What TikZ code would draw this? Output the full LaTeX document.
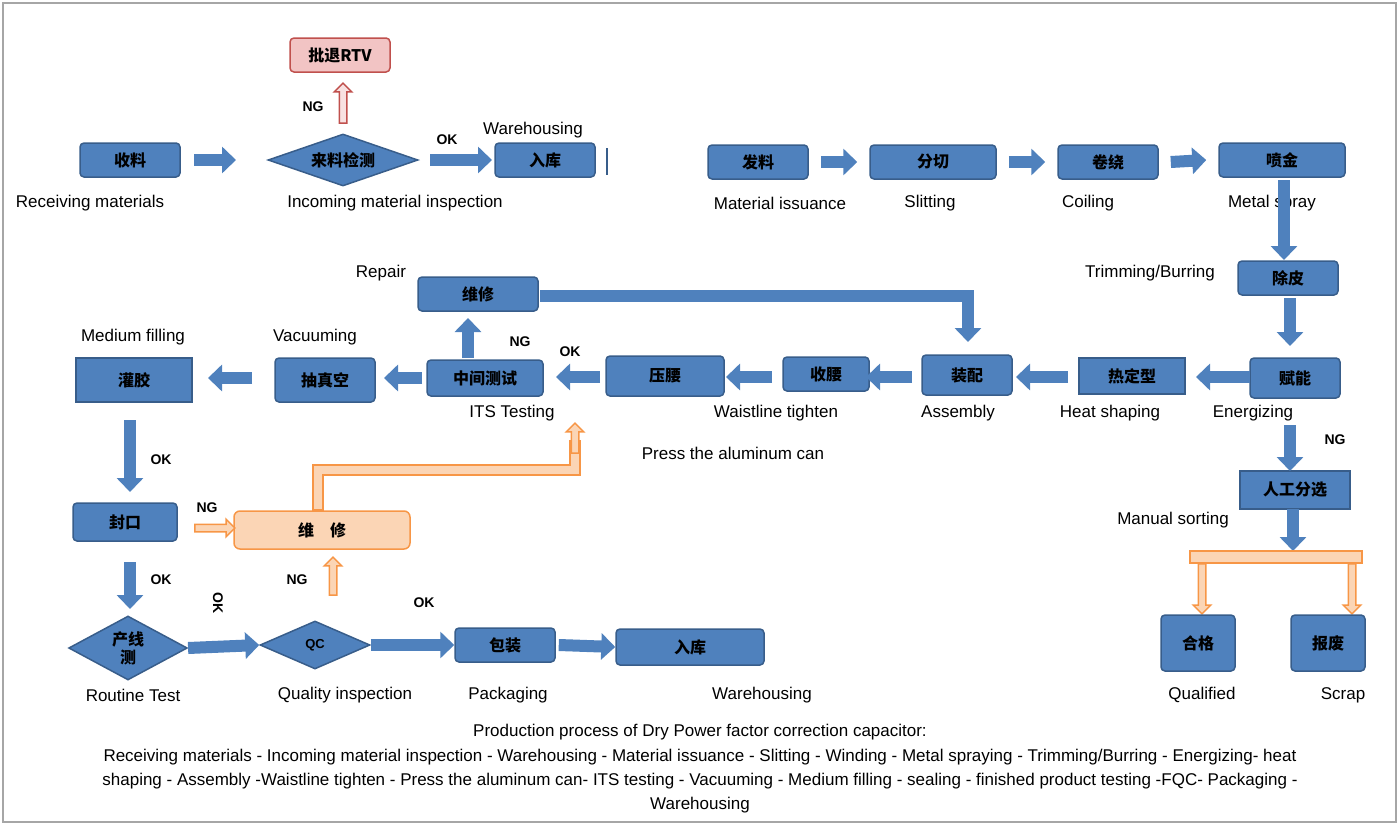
\documentclass[tikz,border=0pt]{standalone}
\usepackage{fontspec}
\setmainfont{Liberation Sans}
\newfontfamily\cjk{Noto Sans CJK SC}
\usetikzlibrary{shapes.geometric,shapes.arrows,arrows.meta}
\definecolor{bf}{HTML}{4F81BD}\definecolor{bd}{HTML}{385D8A}
\definecolor{of}{HTML}{FBD5B5}\definecolor{od}{HTML}{F79646}
\definecolor{rf}{HTML}{F2C4C4}\definecolor{rd}{HTML}{C0504D}
\begin{document}
\begin{tikzpicture}[x=1pt,y=-1pt,
 bx/.style={draw=bd,fill=bf,line width=1.5pt,rounded corners=4pt,inner sep=0,font=\cjk\bfseries\fontsize{16}{18}\selectfont,align=center},
 sq/.style={bx,rounded corners=0},
 dm/.style={bx,diamond,rounded corners=0,aspect=2.6},
 lb/.style={font=\fontsize{17}{20}\selectfont},
 ok/.style={font=\bfseries\fontsize{14}{16}\selectfont},
 blk/.style={draw=bf,line width=12pt,-{Triangle[width=26pt,length=14pt]}},
 ha/.style={single arrow,draw=od,fill=of,line width=1.5pt,minimum height=#1,single arrow head extend=5pt,inner sep=3pt},
]
\useasboundingbox (0,0) rectangle (1400,827);
\draw[gray!70,line width=1.5pt] (3,3) rectangle (1396,822);
% top row
\node[bx,minimum width=100,minimum height=34] (shou) at (130,160) {收料};
\node[dm,minimum width=150,minimum height=52] (lai) at (343,160) {来料检测};
\node[bx,minimum width=100,minimum height=34] (ru1) at (545,160) {入库};
\node[bx,draw=rd,fill=rf,minimum width=100,minimum height=34] (rtv) at (340,55) {批退RTV};
\draw[bd,line width=1.5pt] (607,148) -- (607,175);
\draw[blk] (194,160) -- (236,160);
\draw[blk] (430,160) -- (492,160);
\node[single arrow,draw=rd,fill=rf!50,line width=1.5pt,rotate=90,minimum height=40,single arrow head extend=5pt,inner sep=3pt] (rar) at (343,105) {};
\node[ok] (ng0) at (313,107) {NG};
\node[ok] (ok0) at (447,140) {OK};
\node[lb] (l1) at (533,130) {Warehousing};
\node[lb] (l2) at (90,203) {Receiving materials};
\node[lb] (l3) at (395,203) {Incoming material inspection};
\node[bx,minimum width=100,minimum height=34] (fa) at (758,162) {发料};
\node[bx,minimum width=126,minimum height=34] (fen) at (933,162) {分切};
\node[bx,minimum width=100,minimum height=34] (juan) at (1108,162) {卷绕};
\node[bx,minimum width=126,minimum height=34] (pen) at (1282,160) {喷金};
\draw[blk] (fa.east)++(12,0) -- ([xshift=-12]fen.west);
\draw[blk] (fen.east)++(12,0) -- ([xshift=-12]juan.west);
\draw[blk] (juan.east)++(12,0) -- ([xshift=-12]pen.west);
\node[lb] at (780,203) {Material issuance};
\node[lb] at (930,203) {Slitting};
\node[lb] at (1088,203) {Coiling};
\node[lb] at (1272,203) {Metal spray};
\node[bx,minimum width=100,minimum height=34] (chu) at (1288,278) {除皮};
\draw[blk] (1284,180) -- (1284,260);
\node[lb] at (1150,273) {Trimming/Burring};
\node[bx,minimum width=90,minimum height=40] (fu) at (1295,378) {赋能};
\draw[blk] (1290,298) -- (1290,346);
\node[lb] at (1253,413) {Energizing};
\node[sq,minimum width=106,minimum height=36] (re) at (1132,376) {热定型};
\draw[blk] (1250,377) -- (1196,377);
\node[lb] at (1110,413) {Heat shaping};
\node[bx,minimum width=90,minimum height=40] (zhuang) at (967,375) {装配};
\draw[blk] (1068,377) -- (1016,377);
\node[lb] at (958,413) {Assembly};
\node[bx,minimum width=86,minimum height=34] (shoum) at (826,374) {收腰};
\draw[blk] (912,377) -- (866,377);
\node[lb] at (776,413) {Waistline tighten};
\node[bx,minimum width=118,minimum height=40] (ya) at (665,376) {压腰};
\draw[blk] (772,377) -- (726,377);
\node[lb] at (733,453) {Press the aluminum can};
\node[bx,minimum width=116,minimum height=36] (zj) at (485,378) {中间测试};
\draw[blk] (600,377) -- (556,377);
\node[lb] at (512,413) {ITS Testing};
\node[ok] at (570,352) {OK};
\node[ok] at (520,342) {NG};
\node[bx,minimum width=120,minimum height=34] (wx1) at (478,294) {维修};
\draw[blk] (468,358) -- (468,318);
\node[lb] at (381,273) {Repair};
\draw[draw=bf,line width=12pt,-{Triangle[width=26pt,length=14pt]}] (540,296) -| (968,342);
\node[bx,minimum width=100,minimum height=44] (chou) at (325,380) {抽真空};
\draw[blk] (422,378) -- (384,378);
\node[lb] at (315,337) {Vacuuming};
\node[sq,minimum width=116,minimum height=44] (guan) at (134,380) {灌胶};
\draw[blk] (252,378) -- (208,378);
\node[lb] at (133,337) {Medium filling};
% left column
\node[bx,minimum width=104,minimum height=38] (feng) at (125,522) {封口};
\draw[blk] (130,420) -- (130,492);
\node[ok] at (161,460) {OK};
\node[ok] at (207,508) {NG};
\node[bx,draw=od,fill=of,rounded corners=6pt,minimum width=176,minimum height=38] (wx2) at (322,530) {维\quad 修};
\node[ha=40] at (213,528) {};
\draw[od,line width=12pt] (318,511) -- (318,470) -- (575,470) -- (575,440);
\draw[of,line width=8pt] (318,509) -- (318,470) -- (575,470) -- (575,440);
\node[ha=30,rotate=90,minimum width=12] at (575,440) {};
\node[ha=38,rotate=90] at (333,578) {};
\node[ok] at (297,580) {NG};
\draw[blk] (130,562) -- (130,609);
\node[ok] at (161,580) {OK};
\node[dm,minimum width=110,minimum height=64] (cx) at (128,648) {产线\\测};
\node[lb] at (133,695) {Routine Test};
\node[dm,minimum width=110,minimum height=48,font=\bfseries\fontsize{13}{15}\selectfont] (qc) at (315,645) {QC};
\draw[blk] (cx.east) -- (qc.west);
\node[ok,rotate=-90] at (218,603) {OK};
\node[lb] at (345,695) {Quality inspection};
\node[bx,minimum width=100,minimum height=34] (bao) at (505,645) {包装};
\draw[blk] (qc.east) -- (bao.west);
\node[ok] at (424,603) {OK};
\node[lb] at (508,695) {Packaging};
\node[bx,minimum width=148,minimum height=36] (ru2) at (690,647) {入库};
\draw[blk] (bao.east)++(3,0) -- (ru2.west);
\node[lb] at (762,695) {Warehousing};
% right
\node[sq,minimum width=110,minimum height=38] (rg) at (1295,490) {人工分选};
\draw[blk] (1290,425) -- (1290,471);
\node[ok] at (1335,440) {NG};
\node[lb] at (1173,520) {Manual sorting};
\draw[blk] (1293,509) -- (1293,551);
\draw[od,fill=of,line width=1.5pt] (1190,551) rectangle (1362,563);
\node[ha=50,rotate=-90] at (1202,587) {};
\node[ha=50,rotate=-90] at (1352,587) {};
\node[bx,minimum width=74,minimum height=56] (hg) at (1198,643) {合格};
\node[bx,minimum width=74,minimum height=56] (bf2) at (1328,643) {报废};
\node[lb] at (1202,695) {Qualified};
\node[lb] at (1343,695) {Scrap};
% bottom text
\node[lb] at (700,732) {Production process of Dry Power factor correction capacitor:};
\node[lb] at (700,757) {Receiving materials - Incoming material inspection - Warehousing - Material issuance - Slitting - Winding - Metal spraying - Trimming/Burring - Energizing- heat};
\node[lb] at (700,781) {shaping - Assembly -Waistline tighten - Press the aluminum can- ITS testing - Vacuuming - Medium filling - sealing - finished product testing -FQC- Packaging -};
\node[lb] at (700,805) {Warehousing};
\end{tikzpicture}
\end{document}
